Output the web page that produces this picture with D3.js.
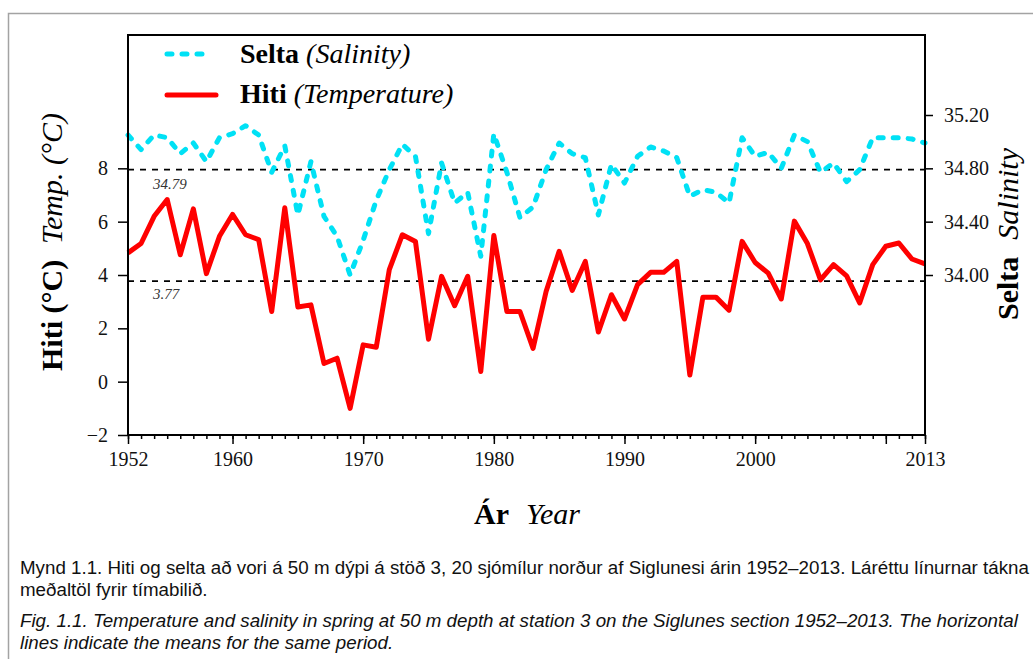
<!DOCTYPE html>
<html>
<head>
<meta charset="utf-8">
<script src="https://cdn.jsdelivr.net/npm/d3@7"></script>
<style>
  body { margin: 0; background: #fff; }
  svg { display: block; }
  .serif { font-family: "Liberation Serif", "Times New Roman", serif; }
</style>
</head>
<body>
<svg id="chart" width="1033" height="659"></svg>
<script>
// Data (spring, 50 m, station Siglunes 3)
var years = [1952, 1953, 1954, 1955, 1956, 1957, 1958, 1959, 1960, 1961,
	1962, 1963, 1964, 1965, 1966, 1967, 1968, 1969, 1970, 1971,
	1972, 1973, 1974, 1975, 1976, 1977, 1978, 1979, 1980, 1981,
	1982, 1983, 1984, 1985, 1986, 1987, 1988, 1989, 1990, 1991,
	1992, 1993, 1994, 1995, 1996, 1997, 1998, 1999, 2000, 2001,
	2002, 2003, 2004, 2005, 2006, 2007, 2008, 2009, 2010, 2011,
	2012, 2013];

var temperature = [4.83, 5.18, 6.20, 6.83, 4.76, 6.48, 4.05, 5.45, 6.27, 5.51,
	5.33, 2.63, 6.52, 2.80, 2.88, 0.68, 0.88, -1.00, 1.38, 1.29,
	4.20, 5.51, 5.26, 1.59, 3.95, 2.85, 3.95, 0.38, 5.48, 2.63,
	2.63, 1.25, 3.38, 4.89, 3.42, 4.51, 1.86, 3.26, 2.35, 3.64,
	4.10, 4.10, 4.51, 0.25, 3.17, 3.17, 2.68, 5.26, 4.47, 4.07,
	3.10, 6.02, 5.18, 3.82, 4.39, 3.97, 2.95, 4.39, 5.08, 5.20,
	4.60, 4.42];

var salinity = [35.05, 34.94, 35.05, 35.03, 34.91, 34.99, 34.85, 35.03, 35.06, 35.12,
	35.05, 34.77, 34.97, 34.45, 34.85, 34.44, 34.29, 34.00, 34.26, 34.56,
	34.79, 34.98, 34.89, 34.31, 34.84, 34.54, 34.62, 34.14, 35.06, 34.77,
	34.43, 34.51, 34.79, 34.99, 34.91, 34.88, 34.45, 34.83, 34.69, 34.89,
	34.96, 34.93, 34.88, 34.59, 34.64, 34.62, 34.54, 35.03, 34.89, 34.92,
	34.80, 35.05, 35.00, 34.77, 34.84, 34.70, 34.79, 35.03, 35.03, 35.03,
	35.02, 34.99];

var meanTemp = 3.77;
var meanSal = 34.79;

var tempTicks = [-2, 0, 2, 4, 6, 8];
var salTicks = [34.0, 34.4, 34.8, 35.2];
var yearLabels = [1952, 1960, 1970, 1980, 1990, 2000, 2010, 2013];

var captionIs = ['Mynd 1.1. Hiti og selta að vori á 50 m dýpi á stöð 3, 20 sjómílur norður af Siglunesi árin 1952–2013. Láréttu línurnar tákna',
	'meðaltöl fyrir tímabilið.'];
var captionEn = ['Fig. 1.1. Temperature and salinity in spring at 50 m depth at station 3 on the Siglunes section 1952–2013. The horizontal',
	'lines indicate the means for the same period.'];

var cyan = '#00e1f5', red = '#ff0000';

var svg = d3.select('#chart');

// outer frame (only top and left edge show)
svg.append('path')
	.attr('d', 'M8.5,659 V13.5 H1033')
	.attr('fill', 'none')
	.attr('stroke', '#a3a3a3')
	.attr('stroke-width', 1.5);

// note: "top" is taken by window.top, so use other names
var plotL = 128, plotR = 925, plotT = 35, plotB = 435;

var x = d3.scaleLinear().domain([1952, 2013]).range([plotL, plotR]);
var yT = d3.scaleLinear().domain([-2, 13]).range([plotB, plotT]);
var yS = d3.scaleLinear().domain([32.8, 35.8]).range([plotB, plotT]);

var rows = years.map(function(y, i){
	return {year: y, t: temperature[i], s: salinity[i]};
});

// mean lines
svg.append('line')
	.attr('x1', plotL).attr('x2', plotR)
	.attr('y1', yS(meanSal)).attr('y2', yS(meanSal))
	.attr('stroke', '#000').attr('stroke-width', 1.6)
	.attr('stroke-dasharray', '6,6');
svg.append('line')
	.attr('x1', plotL).attr('x2', plotR)
	.attr('y1', yT(meanTemp)).attr('y2', yT(meanTemp))
	.attr('stroke', '#000').attr('stroke-width', 1.6)
	.attr('stroke-dasharray', '6,6');

svg.append('text').attr('class', 'serif')
	.attr('x', 153).attr('y', yS(meanSal) + 19)
	.attr('font-size', 15).attr('font-style', 'italic').attr('fill', '#333')
	.text(meanSal.toFixed(2));
svg.append('text').attr('class', 'serif')
	.attr('x', 153).attr('y', yT(meanTemp) + 18)
	.attr('font-size', 15).attr('font-style', 'italic').attr('fill', '#333')
	.text(meanTemp.toFixed(2));

// series
var salLine = d3.line().x(function(d){ return x(d.year); }).y(function(d){ return yS(d.s); });
var tempLine = d3.line().x(function(d){ return x(d.year); }).y(function(d){ return yT(d.t); });

svg.append('path')
	.datum(rows)
	.attr('d', salLine)
	.attr('fill', 'none')
	.attr('stroke', cyan)
	.attr('stroke-width', 5)
	.attr('stroke-linecap', 'round')
	.attr('stroke-linejoin', 'round')
	.attr('stroke-dasharray', '5,10');

svg.append('path')
	.datum(rows)
	.attr('d', tempLine)
	.attr('fill', 'none')
	.attr('stroke', red)
	.attr('stroke-width', 5)
	.attr('stroke-linejoin', 'round');

// axes
function styleAxis(g){
	g.select('.domain').remove();
	g.selectAll('line').attr('stroke', '#000').attr('stroke-width', 1.5);
	g.selectAll('text')
		.attr('class', 'serif')
		.attr('font-size', 20)
		.attr('fill', '#111');
}

var fmtMinus = function(d){ return d < 0 ? '\u2212' + Math.abs(d) : String(d); };

svg.append('g')
	.attr('transform', 'translate(' + plotL + ',0)')
	.call(d3.axisLeft(yT).tickValues(tempTicks).tickSize(10).tickPadding(10).tickFormat(fmtMinus))
	.call(styleAxis);

svg.append('g')
	.attr('transform', 'translate(' + plotR + ',0)')
	.call(d3.axisRight(yS).tickValues(salTicks).tickSize(8).tickPadding(11).tickFormat(d3.format('.2f')))
	.call(styleAxis);

// minor year ticks
svg.append('g')
	.attr('transform', 'translate(0,' + plotB + ')')
	.call(d3.axisBottom(x).tickValues(years).tickSize(4).tickFormat(''))
	.call(styleAxis);

svg.append('g')
	.attr('transform', 'translate(0,' + plotB + ')')
	.call(d3.axisBottom(x).tickValues(yearLabels).tickSize(9).tickPadding(8)
		.tickFormat(function(d){ return d == 2010 ? '' : d; }))
	.call(styleAxis);

// plot box
svg.append('rect')
	.attr('x', plotL).attr('y', plotT)
	.attr('width', plotR - plotL).attr('height', plotB - plotT)
	.attr('fill', 'none')
	.attr('stroke', '#000')
	.attr('stroke-width', 2);

// legend
svg.append('line')
	.attr('x1', 167).attr('x2', 212).attr('y1', 54).attr('y2', 54)
	.attr('stroke', cyan).attr('stroke-width', 5)
	.attr('stroke-linecap', 'round').attr('stroke-dasharray', '5,10');
svg.append('line')
	.attr('x1', 167).attr('x2', 216).attr('y1', 95).attr('y2', 95)
	.attr('stroke', red).attr('stroke-width', 5).attr('stroke-linecap', 'round');

var leg1 = svg.append('text').attr('class', 'serif').attr('x', 240).attr('y', 63).attr('font-size', 28);
leg1.append('tspan').attr('font-weight', 'bold').text('Selta');
leg1.append('tspan').attr('font-style', 'italic').text(' (Salinity)');
var leg2 = svg.append('text').attr('class', 'serif').attr('x', 240).attr('y', 103).attr('font-size', 28);
leg2.append('tspan').attr('font-weight', 'bold').text('Hiti');
leg2.append('tspan').attr('font-style', 'italic').text(' (Temperature)');

// axis titles
var yl = svg.append('text').attr('class', 'serif')
	.attr('transform', 'translate(62,242) rotate(-90)')
	.attr('text-anchor', 'middle').attr('font-size', 30);
yl.append('tspan').attr('font-weight', 'bold').text('Hiti (°C)');
yl.append('tspan').attr('font-style', 'italic').attr('dx', 16).text('Temp. (°C)');

var yr = svg.append('text').attr('class', 'serif')
	.attr('transform', 'translate(1018,234) rotate(-90)')
	.attr('text-anchor', 'middle').attr('font-size', 30);
yr.append('tspan').attr('font-weight', 'bold').text('Selta');
yr.append('tspan').attr('font-style', 'italic').attr('dx', 17).text('Salinity');

var xl = svg.append('text').attr('class', 'serif')
	.attr('x', 527).attr('y', 524)
	.attr('text-anchor', 'middle').attr('font-size', 30);
xl.append('tspan').attr('font-weight', 'bold').text('Ár');
xl.append('tspan').attr('font-style', 'italic').attr('dx', 17).text('Year');

// caption
var cap = svg.append('g').attr('font-family', '"Liberation Sans", Arial, sans-serif').attr('font-size', 18.75).attr('fill', '#111');
captionIs.forEach(function(line, i){
	cap.append('text').attr('x', 20).attr('y', 574 + i * 22).text(line);
});
captionEn.forEach(function(line, i){
	cap.append('text').attr('x', 20).attr('y', 627 + i * 22).attr('font-style', 'italic').text(line);
});
</script>
</body>
</html>
